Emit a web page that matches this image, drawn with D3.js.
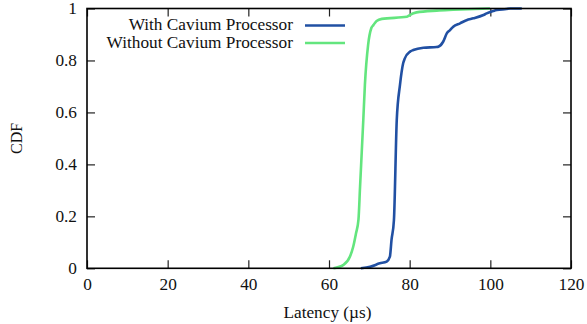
<!DOCTYPE html>
<html>
<head>
<meta charset="utf-8">
<script src="https://cdn.jsdelivr.net/npm/d3@7"></script>
<style>
  body { margin: 0; background: #fff; }
  svg { font-family: "Liberation Serif", "Times New Roman", serif; }
  /* the original's type is a bit wider than it is tall */
  svg text { transform-box: fill-box; transform: scaleX(1.08); }
  .end { transform-origin: right center; }
  .mid { transform-origin: center center; }
</style>
</head>
<body>
<svg id="chart" width="587" height="324"></svg>
<script>
// latency (us) and CDF values
const withLat = [67.9, 70.2, 72.6, 74.3, 75.1, 75.5, 76.1, 76.8, 77.6, 78.4, 78.8, 80.1, 80.9, 83.4, 86.7, 87.1, 88.3, 89.2, 90.0, 90.8, 92.5, 94.1, 95.8, 98.3, 99.1, 100.7, 101.6, 104.0, 104.9, 107.8];
const withCdf = [0, 0.006, 0.019, 0.026, 0.045, 0.109, 0.186, 0.571, 0.706, 0.790, 0.808, 0.834, 0.840, 0.849, 0.852, 0.853, 0.872, 0.904, 0.917, 0.930, 0.943, 0.955, 0.962, 0.975, 0.981, 0.990, 0.994, 0.998, 1.0, 1.0];

const withoutLat = [61.1, 63.6, 65.2, 66.0, 66.7, 67.3, 67.7, 68.5, 68.9, 69.7, 70.5, 71.0, 71.8, 73.1, 79.3, 79.7, 81.7, 86.7, 90.8, 99.9];
const withoutCdf = [0, 0.013, 0.045, 0.083, 0.135, 0.186, 0.314, 0.570, 0.706, 0.860, 0.925, 0.936, 0.952, 0.960, 0.968, 0.972, 0.985, 0.992, 0.995, 1.0];

const xTicks = [0, 20, 40, 60, 80, 100, 120];
const yTicks = [0, 0.2, 0.4, 0.6, 0.8, 1];

const series = [
  { name: 'With Cavium Processor', color: '#2150a3', xs: withLat, ys: withCdf },
  { name: 'Without Cavium Processor', color: '#63e57e', xs: withoutLat, ys: withoutCdf }
];

const svg = d3.select('#chart');
const plotL = 87, plotR = 571, plotT = 8.5, plotB = 268.3;
const fs = 16;

const x = d3.scaleLinear().domain([0, 120]).range([plotL, plotR]);
const y = d3.scaleLinear().domain([0, 1]).range([plotB, plotT]);

// axes, gnuplot style: inward ticks mirrored on all sides
const tickLen = 8;
const fmtY = d => d === 0 || d === 1 ? d : d.toFixed(1);

const xb = svg.append('g').attr('transform', `translate(0,${plotB})`)
  .call(d3.axisBottom(x).tickValues(xTicks).tickSize(-tickLen).tickPadding(10));
xb.selectAll('text').attr('class', 'mid');
svg.append('g').attr('transform', `translate(0,${plotT})`)
  .call(d3.axisTop(x).tickValues(xTicks).tickSize(-tickLen).tickFormat(''));
const yl = svg.append('g').attr('transform', `translate(${plotL},0)`)
  .call(d3.axisLeft(y).tickValues(yTicks).tickSize(-tickLen).tickPadding(10).tickFormat(fmtY));
yl.selectAll('text').attr('class', 'end');
svg.append('g').attr('transform', `translate(${plotR},0)`)
  .call(d3.axisRight(y).tickValues(yTicks).tickSize(-tickLen).tickFormat(''));

svg.selectAll('.domain').remove();
svg.selectAll('.tick line').attr('stroke', '#222').attr('stroke-width', 1.2);
svg.selectAll('.tick text')
  .attr('font-family', '"Liberation Serif", serif')
  .attr('font-size', fs)
  .attr('fill', '#111');

// lines
const line = d3.line()
  .x(d => x(d[0]))
  .y(d => y(d[1]))
  .curve(d3.curveMonotoneX);

series.forEach(s => {
  svg.append('path')
    .datum(d3.zip(s.xs, s.ys))
    .attr('d', line)
    .attr('fill', 'none')
    .attr('stroke', s.color)
    .attr('stroke-width', 2.6)
    .attr('stroke-linejoin', 'round');
});

// frame
svg.append('rect')
  .attr('x', plotL).attr('y', plotT)
  .attr('width', plotR - plotL).attr('height', plotB - plotT)
  .attr('fill', 'none').attr('stroke', '#000').attr('stroke-width', 1.6);

// legend
series.forEach((s, i) => {
  const ly = 25.5 + i * 17.5;
  svg.append('text')
    .attr('class', 'end')
    .attr('x', 293).attr('y', ly + 5)
    .attr('text-anchor', 'end')
    .attr('font-size', fs)
    .attr('fill', '#111')
    .text(s.name);
  svg.append('line')
    .attr('x1', 305).attr('x2', 345)
    .attr('y1', ly).attr('y2', ly)
    .attr('stroke', s.color).attr('stroke-width', 2.6);
});

// axis titles
svg.append('text')
  .attr('class', 'mid')
  .attr('x', 327.5).attr('y', 318)
  .attr('text-anchor', 'middle')
  .attr('font-size', fs)
  .attr('fill', '#111')
  .text('Latency (µs)');

svg.append('g')
  .attr('transform', `translate(22,${(plotT + plotB) / 2}) rotate(-90)`)
  .append('text')
  .style('transform', 'none')
  .attr('text-anchor', 'middle')
  .attr('font-size', fs)
  .attr('fill', '#111')
  .text('CDF');
</script>
</body>
</html>
